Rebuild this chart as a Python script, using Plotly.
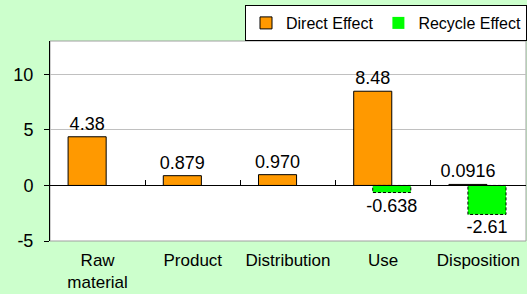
import plotly.graph_objects as go

categories = ["Raw<br>material", "Product", "Distribution", "Use", "Disposition"]
direct_effect = [4.38, 0.879, 0.970, 8.48, 0.0916]
direct_labels = ["4.38", "0.879", "0.970", "8.48", "0.0916"]
recycle_effect = [None, None, None, -0.638, -2.61]
recycle_labels = ["", "", "", "-0.638", "-2.61"]
y_ticks = [-5, 0, 5, 10]
y_tick_labels = ["-5", "0", "5", "10"]

FONT = "Arial, Liberation Sans, sans-serif"
FS = 18
xpos = list(range(len(categories)))
W = 0.4
OFF_D = -0.31
OFF_R = -0.11

fig = go.Figure()
fig.add_trace(go.Bar(
    x=xpos, y=direct_effect, name="Direct Effect", width=W, offset=OFF_D,
    marker=dict(color="#FF9900", line=dict(color="black", width=1)),
    text=direct_labels, textposition="outside", constraintext="none", cliponaxis=False,
    textfont=dict(family=FONT, size=FS, color="black"),
))
fig.add_trace(go.Bar(
    x=xpos, y=recycle_effect, name="Recycle Effect", width=W, offset=OFF_R,
    marker=dict(color="#00FF00", line=dict(color="#00FF00", width=0)),
    text=recycle_labels, textposition="outside", constraintext="none", cliponaxis=False,
    textfont=dict(family=FONT, size=FS, color="black"),
))
# dashed outline for recycle bars, computed from data
ox, oy = [], []
for i, v in zip(xpos, recycle_effect):
    if v is None:
        continue
    x0, x1 = i + OFF_R, i + OFF_R + W
    ox += [x0, x1, x1, x0, x0, None]
    oy += [0, 0, v, v, 0, None]
fig.add_trace(go.Scatter(x=ox, y=oy, mode="lines", line=dict(color="black", width=1, dash="3px,2px"),
                         showlegend=False, hoverinfo="skip"))
# invisible trace for zero-line axis
fig.add_trace(go.Scatter(x=[0], y=[0], xaxis="x2", mode="markers", marker=dict(opacity=0),
                         showlegend=False, hoverinfo="skip"))

fig.update_layout(
    width=527, height=294,
    margin=dict(l=50, r=1, t=39, b=53),
    paper_bgcolor="#CCFFCC", plot_bgcolor="white",
    barmode="overlay",
    font=dict(family=FONT, size=FS, color="black"),
    showlegend=True,
    legend=dict(orientation="h", xref="container", yref="container",
                x=1, xanchor="right", y=1 - 5 / 294, yanchor="top",
                bgcolor="white", bordercolor="black", borderwidth=1,
                font=dict(family=FONT, size=16), itemwidth=30,
                tracegroupgap=0, traceorder="normal"),
    xaxis=dict(range=[-0.5, 4.5], tickvals=xpos, ticktext=categories, showline=False,
               ticks="", showgrid=False, zeroline=False, automargin=False,
               ticklabelstandoff=7,
               tickfont=dict(family=FONT, size=17)),
    xaxis2=dict(overlaying="x", anchor="free", position=5 / 18, range=[-0.5, 4.5],
                tickvals=[0.5, 1.5, 2.5, 3.5], showticklabels=False, ticks="inside",
                ticklen=5, tickcolor="black", showline=True, linecolor="black", linewidth=1,
                showgrid=False, zeroline=False, automargin=False),
    yaxis=dict(range=[-5, 13], tickvals=y_ticks, ticktext=y_tick_labels,
               showgrid=True, gridcolor="#C0C0C0", automargin=False,
               gridwidth=1, zeroline=False, showline=True, linecolor="black", linewidth=1,
               ticks="outside", ticklen=5, tickcolor="black", ticklabelstandoff=7,
               tickfont=dict(family=FONT, size=FS)),
    shapes=[dict(type="rect", xref="paper", yref="paper", x0=0, x1=1, y0=0, y1=1,
                 line=dict(color="#A0A0A0", width=1), layer="below")],
)
fig.write_html("out.html", config={"displayModeBar": False},
               post_script="document.body.style.margin='0';document.body.style.background='#CCFFCC';")
